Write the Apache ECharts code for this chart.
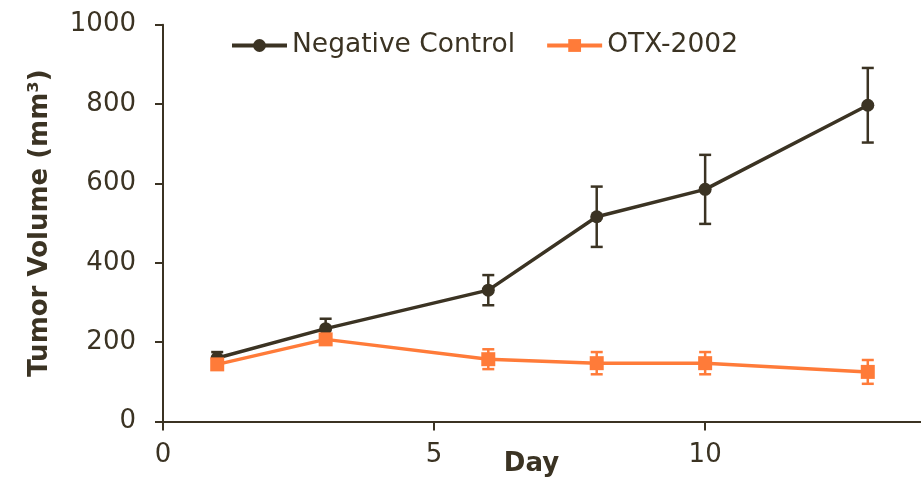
<!DOCTYPE html>
<html>
<head>
<meta charset="utf-8">
<script src="https://cdn.jsdelivr.net/npm/echarts@6/dist/echarts.min.js"></script>
<style>html,body{margin:0;padding:0;background:#fff;}#c{width:921px;height:482px;}</style>
</head>
<body>
<div id="c"></div>
<script>
var days = [1, 3, 6, 8, 10, 13];
var negMean = [160, 234, 331, 516, 585, 797];
var negErr = [15, 25, 38, 76, 87, 94];
var otxMean = [144, 207, 157, 147, 147, 125];
var otxErr = [8, 10, 25, 28, 28, 30];
var seriesNames = ['Negative Control', 'OTX-2002'];
var xTicks = [0, 5, 10];
var yTicks = [0, 200, 400, 600, 800, 1000];

var DARK = '#3b3323';
var ORANGE = '#ff7b39';
var FONT = 'DejaVu Sans';

function pairs(xs, ys) { return xs.map(function (x, i) { return [x, ys[i]]; }); }
function errData(xs, m, e) { return xs.map(function (x, i) { return [x, m[i] - e[i], m[i] + e[i]]; }); }
function errRender(color) {
  return function (params, api) {
    var x = api.value(0), lo = api.value(1), hi = api.value(2);
    var p1 = api.coord([x, hi]), p2 = api.coord([x, lo]);
    var w = 6;
    var st = { stroke: color, lineWidth: 2.5 };
    return {
      type: 'group',
      children: [
        { type: 'line', shape: { x1: p1[0], y1: p1[1], x2: p2[0], y2: p2[1] }, style: st },
        { type: 'line', shape: { x1: p1[0] - w, y1: p1[1], x2: p1[0] + w, y2: p1[1] }, style: st },
        { type: 'line', shape: { x1: p2[0] - w, y1: p2[1], x2: p2[0] + w, y2: p2[1] }, style: st }
      ]
    };
  };
}
function plain(v) { return String(v); }

var chart = echarts.init(document.getElementById('c'), null, { renderer: 'canvas' });
chart.setOption({
  animation: false,
  backgroundColor: '#fff',
  textStyle: { fontFamily: FONT, color: DARK },
  grid: { left: 163, right: -1, top: 24.7, bottom: 60.5, outerBoundsMode: 'none', containLabel: false },
  legend: {
    data: seriesNames,
    left: 225,
    top: 27,
    itemWidth: 55,
    itemHeight: 16,
    itemGap: 30,
    lineStyle: { width: 4 },
    textStyle: { fontFamily: FONT, fontSize: 26.5, color: DARK }
  },
  xAxis: {
    type: 'value', min: 0, max: 14,
    name: 'Day', nameLocation: 'middle', nameGap: 30, nameMoveOverlap: false,
    nameTextStyle: { fontFamily: FONT, fontSize: 26, fontWeight: 'bold', color: DARK, padding: [0, 22, 0, 0] },
    axisLine: { show: true, lineStyle: { color: DARK, width: 2 } },
    axisTick: { show: true, length: 9, customValues: xTicks, lineStyle: { color: DARK, width: 2 } },
    axisLabel: { fontFamily: FONT, fontSize: 26, color: DARK, margin: 21, customValues: xTicks, formatter: plain },
    splitLine: { show: false }
  },
  yAxis: {
    type: 'value', min: 0, max: 1000, interval: 200,
    name: 'Tumor Volume (mm³)', nameLocation: 'middle', nameGap: 110, nameMoveOverlap: false,
    nameTextStyle: { fontFamily: FONT, fontSize: 26, fontWeight: 'bold', color: DARK },
    axisLine: { show: true, lineStyle: { color: DARK, width: 2 } },
    axisTick: { show: true, length: 8, customValues: yTicks, lineStyle: { color: DARK, width: 2 } },
    axisLabel: { fontFamily: FONT, fontSize: 26, color: DARK, margin: 27, customValues: yTicks, formatter: plain },
    splitLine: { show: false }
  },
  series: [
    {
      name: 'negErr', type: 'custom', renderItem: errRender(DARK),
      data: errData(days, negMean, negErr), encode: { x: 0, y: [1, 2] }, z: 2, silent: true
    },
    {
      name: seriesNames[0], type: 'line', data: pairs(days, negMean),
      color: DARK, symbol: 'circle', symbolSize: 13, showSymbol: true,
      lineStyle: { color: DARK, width: 3.5 }, itemStyle: { color: DARK }, z: 3
    },
    {
      name: 'otxErr', type: 'custom', renderItem: errRender(ORANGE),
      data: errData(days, otxMean, otxErr), encode: { x: 0, y: [1, 2] }, z: 4, silent: true
    },
    {
      name: seriesNames[1], type: 'line', data: pairs(days, otxMean),
      color: ORANGE, symbol: 'rect', symbolSize: 14, showSymbol: true,
      lineStyle: { color: ORANGE, width: 3.5 }, itemStyle: { color: ORANGE }, z: 5
    }
  ]
});
</script>
</body>
</html>
